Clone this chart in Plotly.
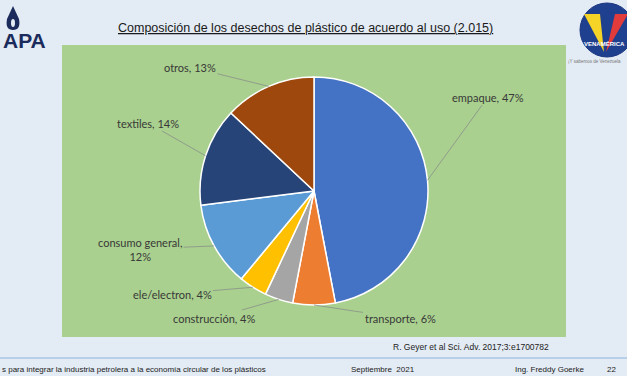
import math
import plotly.graph_objects as go

# ---- data ----
categories = ["empaque", "transporte", "construcción", "ele/electron",
              "consumo general", "textiles", "otros"]
values = [47, 6, 4, 4, 12, 14, 13]
label_texts = ["empaque, 47%", "transporte, 6%", "construcción, 4%", "ele/electron, 4%",
               "consumo general,<br>12%", "textiles, 14%", "otros, 13%"]
colors = ["#4472C4", "#ED7D31", "#A5A5A5", "#FFC000", "#5B9BD5", "#264478", "#9E480E"]

title = "Composición de los desechos de plástico de acuerdo al uso (2.015)"
source = "R. Geyer et al Sci. Adv. 2017;3:e1700782"
footer_left = "s para integrar la industria petrolera a la economía circular de los plásticos"
footer_mid = "Septiembre  2021"
footer_author = "Ing. Freddy Goerke"
footer_page = "22"

# ---- layout (pixels) ----
W, H = 627, 376
CX, CY, R = 314, 191, 114
label_pos = [(488, 97), (400, 318), (214, 318), (172, 294), (140, 249), (148, 123), (190, 67)]


def px(x):
    return x / W


def py(y):
    return 1 - y / H


fig = go.Figure()
fig.add_trace(go.Pie(
    labels=categories, values=values, sort=False, direction="clockwise",
    marker=dict(colors=colors, line=dict(color="white", width=1.5)),
    textinfo="none", hoverinfo="label+percent", showlegend=False,
    domain=dict(x=[px(CX - R), px(CX + R)], y=[py(CY + R), py(CY - R)]),
))

shapes = [
    # green chart area
    dict(type="rect", xref="paper", yref="paper", x0=px(62), x1=px(566), y0=py(337), y1=py(45),
         fillcolor="#a9d08e", line=dict(width=0), layer="below"),
    # footer line
    dict(type="line", xref="paper", yref="paper", x0=0, x1=1, y0=py(358), y1=py(358),
         line=dict(color="#8db3dc", width=1)),
    # APA drop
    dict(type="path", xref="paper", yref="paper",
         path=f"M {px(13)} {py(6)} L {px(19)} {py(19)} Q {px(21)} {py(30)} {px(13)} {py(30)} "
              f"Q {px(5)} {py(30)} {px(7)} {py(19)} Z",
         fillcolor="#1b2b5c", line=dict(width=0)),
    dict(type="circle", xref="paper", yref="paper", x0=px(11), x1=px(15), y0=py(27), y1=py(19),
         fillcolor="#e3ebf4", line=dict(width=0)),
    # Venamerica circle
    dict(type="circle", xref="paper", yref="paper", x0=px(580), x1=px(634), y0=py(57), y1=py(3),
         fillcolor="#1f3f8f", line=dict(color="#1a3580", width=1)),
    dict(type="path", xref="paper", yref="paper",
         path=f"M {px(584)} {py(14)} L {px(600)} {py(14)} L {px(604)} {py(52)} Z",
         fillcolor="#f5d327", line=dict(width=0)),
    dict(type="path", xref="paper", yref="paper",
         path=f"M {px(615)} {py(14)} L {px(628)} {py(14)} L {px(606)} {py(52)} Z",
         fillcolor="#e23b3b", line=dict(width=0)),
]

annotations = []
cum = 0
for v, txt_, (lx, ly) in zip(values, label_texts, label_pos):
    mid = (cum + v / 2) / sum(values) * 2 * math.pi
    cum += v
    x0 = CX + R * math.sin(mid)
    y0 = CY - R * math.cos(mid)
    annotations.append(dict(
        x=px(x0), y=py(y0), xref="paper", yref="paper", text=txt_,
        showarrow=True, ax=lx - x0, ay=ly - y0, arrowhead=0, arrowwidth=0.8,
        arrowcolor="#8a8f8a", standoff=0, startstandoff=0,
        font=dict(family="Lato", size=11, color="#383838"), align="center",
    ))


def txt(x, y, s, size, color="#222", family="Liberation Sans", xanchor="center"):
    return dict(x=px(x), y=py(y), xref="paper", yref="paper", text=s, showarrow=False,
                xanchor=xanchor, yanchor="middle",
                font=dict(family=family, size=size, color=color))


annotations += [
    txt(305, 28, f"<u>{title}</u>", 12.5, "#1a1a1a"),
    txt(551, 347, source, 8.5, xanchor="right"),
    txt(0, 369, footer_left, 8, xanchor="left"),
    txt(349, 369, footer_mid, 8, xanchor="left"),
    txt(513, 369, footer_author, 8, xanchor="left"),
    txt(605, 369, footer_page, 8, xanchor="left"),
    txt(24, 40, "<b>APA</b>", 21, "#1b2b5c"),
    txt(604, 43, "<b>VENAMÉRICA</b>", 6, "white"),
    txt(623, 62, "¡Y sabemos de Venezuela", 4.5, "#777", xanchor="right"),
]

fig.update_layout(
    width=W, height=H, margin=dict(l=0, r=0, t=0, b=0),
    paper_bgcolor="#e3ebf4", plot_bgcolor="#e3ebf4",
    shapes=shapes, annotations=annotations,
)

fig.write_html("out.html", config={"displayModeBar": False},
               post_script="document.body.style.margin='0';document.body.style.overflow='hidden';")
